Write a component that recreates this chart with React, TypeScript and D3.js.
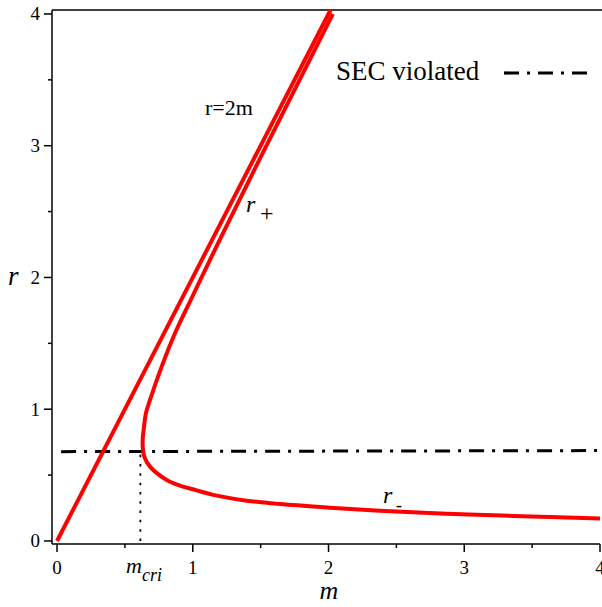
import React from "react";
import * as d3 from "d3";

// Plot window (m on the horizontal axis, r on the vertical axis)
const mDomain = [-0.037, 4];
const rDomain = [-0.023, 4.03];

const majorTicks = [0, 1, 2, 3, 4];
const minorTicks = [0.5, 1.5, 2.5, 3.5];

// Horizon curve, traced from the outer branch r+ down through the turning point to r-
const horizonM = [2.032, 1.787, 1.527, 1.234, 1.111, 0.985, 0.869, 0.771, 0.685, 0.655, 0.641, 0.631, 0.632, 0.643, 0.685, 0.808, 0.906, 1.029, 1.151, 1.397, 1.643, 2.011, 2.379, 2.871, 3.361, 4.0];
const horizonR = [4.0, 3.5, 2.968, 2.36, 2.1, 1.829, 1.576, 1.323, 1.07, 0.97, 0.868, 0.767, 0.706, 0.64, 0.564, 0.463, 0.42, 0.384, 0.35, 0.306, 0.28, 0.253, 0.23, 0.207, 0.19, 0.171];

// Schwarzschild radius r = 2m
const schwarzM = [0, 2.015];
const schwarzR = [0, 4.03];

// Strong energy condition boundary
const secM = [0.03, 4];
const secR = [0.678, 0.686];

// Critical mass where the two horizons merge
const mCri = 0.614;

const W = 602;
const H = 607;
const serif = "Liberation Serif, DejaVu Serif, Times New Roman, serif";

function T(props: any) {
  const { children, italic, ...rest } = props;
  return (
    <text
      fill="#000"
      style={{ fontFamily: serif, fontStyle: italic ? "italic" : "normal" }}
      {...rest}
    >
      {children}
    </text>
  );
}

export default function App() {
  const x = d3.scaleLinear().domain(mDomain).range([52, 600]);
  const y = d3.scaleLinear().domain(rDomain).range([544, 10]);

  const horizonPts: [number, number][] = horizonM.map((m, i) => [m, horizonR[i]]);
  const schwarzPts: [number, number][] = schwarzM.map((m, i) => [m, schwarzR[i]]);
  const secPts: [number, number][] = secM.map((m, i) => [m, secR[i]]);

  const smooth = d3
    .line<[number, number]>()
    .x((d) => x(d[0]))
    .y((d) => y(d[1]))
    .curve(d3.curveCatmullRom.alpha(0.5));
  const straight = d3
    .line<[number, number]>()
    .x((d) => x(d[0]))
    .y((d) => y(d[1]));

  const x0 = x(mDomain[0]);
  const x1 = x(mDomain[1]);
  const y0 = y(rDomain[0]);
  const yTop = y(rDomain[1]);

  const secAtCri = secR[0] + ((mCri - secM[0]) / (secM[1] - secM[0])) * (secR[1] - secR[0]);

  return (
    <svg
      width={W}
      height={H}
      style={{ position: "absolute", left: 0, top: 0, background: "#fff" }}
    >
      {/* frame: top edge, left axis, bottom axis */}
      <line x1={x0} x2={W} y1={yTop} y2={yTop} stroke="#000" strokeWidth={1.5} />
      <line x1={x0} x2={x0} y1={yTop} y2={y0} stroke="#000" strokeWidth={1.5} />
      <line x1={x0} x2={x1} y1={y0} y2={y0} stroke="#000" strokeWidth={1.5} />

      {/* x ticks */}
      {majorTicks.map((t) => (
        <g key={"xt" + t}>
          <line x1={x(t)} x2={x(t)} y1={y0} y2={y0 + 8} stroke="#000" strokeWidth={1.5} />
          <T x={x(t)} y={574} fontSize={19} textAnchor="middle">
            {t}
          </T>
        </g>
      ))}
      {minorTicks.map((t) => (
        <line key={"xm" + t} x1={x(t)} x2={x(t)} y1={y0} y2={y0 + 4} stroke="#000" strokeWidth={1.5} />
      ))}

      {/* y ticks */}
      {majorTicks.map((t) => (
        <g key={"yt" + t}>
          <line x1={x0 - 8} x2={x0} y1={y(t)} y2={y(t)} stroke="#000" strokeWidth={1.5} />
          <T x={40} y={y(t) + 6.5} fontSize={19} textAnchor="end">
            {t}
          </T>
        </g>
      ))}
      {minorTicks.map((t) => (
        <line key={"ym" + t} x1={x0 - 4} x2={x0} y1={y(t)} y2={y(t)} stroke="#000" strokeWidth={1.5} />
      ))}

      {/* axis titles */}
      <T x={329} y={599} fontSize={26} italic textAnchor="middle">
        m
      </T>
      <T x={8} y={285} fontSize={27} italic>
        r
      </T>

      {/* m_cri marker */}
      <line
        x1={x(mCri)}
        x2={x(mCri)}
        y1={y(0)}
        y2={y(secAtCri)}
        stroke="#000"
        strokeWidth={1.8}
        strokeDasharray="2.5,6.8"
      />
      <T x={126} y={573} fontSize={22} italic>
        m
        <tspan fontSize={18} dy={8}>
          cri
        </tspan>
      </T>

      {/* SEC boundary */}
      <path
        d={straight(secPts) || ""}
        fill="none"
        stroke="#000"
        strokeWidth={3}
        strokeDasharray="15,8,3,8"
      />

      {/* curves */}
      <path d={straight(schwarzPts) || ""} fill="none" stroke="#ff0000" strokeWidth={4} />
      <path d={smooth(horizonPts) || ""} fill="none" stroke="#ff0000" strokeWidth={4} />

      {/* curve labels */}
      <T x={205} y={115} fontSize={22}>
        r=2m
      </T>
      <T x={246} y={212} fontSize={24} italic>
        r
      </T>
      <T x={260} y={221} fontSize={24}>
        +
      </T>
      <T x={383} y={503} fontSize={24} italic>
        r
      </T>
      <T x={396} y={511} fontSize={18}>
        -
      </T>

      {/* legend */}
      <T x={336} y={80} fontSize={27}>
        SEC violated
      </T>
      <line
        x1={504}
        x2={588}
        y1={73}
        y2={73}
        stroke="#000"
        strokeWidth={3.2}
        strokeDasharray="15,8,3,8"
      />
    </svg>
  );
}
